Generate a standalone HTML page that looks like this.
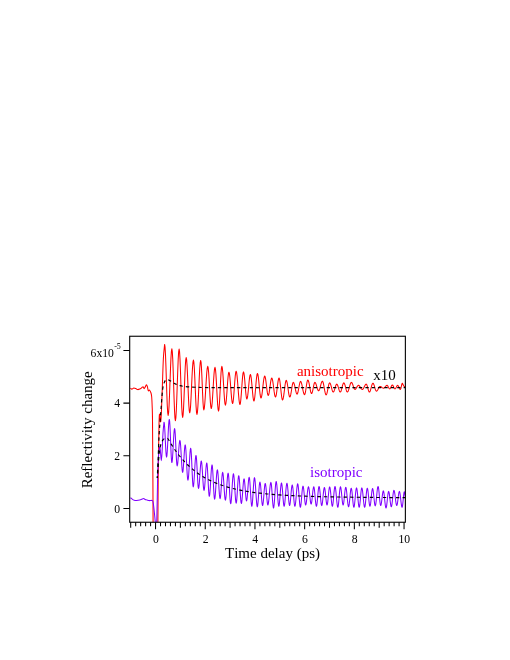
<!DOCTYPE html>
<html><head><meta charset="utf-8"><title>fig</title>
<style>
html,body{margin:0;padding:0;background:#fff;}
body{width:510px;height:660px;overflow:hidden;}
svg{display:block;}
text{font-family:"Liberation Serif",serif;fill:#000;font-variant-ligatures:none;font-kerning:none;}
svg{will-change:transform;}
</style></head><body>
<svg width="510" height="660" viewBox="0 0 510 660">
<rect width="510" height="660" fill="#fff"/>
<defs><clipPath id="c"><rect x="129.7" y="336.25" width="275.67" height="186.0"/></clipPath></defs>
<g clip-path="url(#c)" fill="none" stroke-linejoin="round" stroke-linecap="butt">
<path d="M130.40 388.10 C130.65 388.27 131.33 389.10 131.90 389.10 C132.47 389.10 133.15 388.18 133.80 388.10 C134.45 388.02 135.15 388.35 135.80 388.60 C136.45 388.85 137.05 389.52 137.70 389.60 C138.35 389.68 139.03 389.40 139.70 389.10 C140.37 388.80 141.13 388.20 141.70 387.80 C142.27 387.40 142.70 386.57 143.10 386.70 C143.50 386.83 143.77 388.52 144.10 388.60 C144.43 388.68 144.72 387.85 145.10 387.20 C145.48 386.55 146.02 384.78 146.40 384.70 C146.78 384.62 147.08 385.68 147.40 386.70 C147.72 387.72 147.95 390.23 148.30 390.80 C148.65 391.37 149.05 389.73 149.50 390.10 C149.95 390.47 150.63 391.85 151.00 393.00 C151.37 394.15 151.51 394.83 151.70 397.00 C151.89 399.17 152.02 402.17 152.15 406.00 C152.28 409.83 152.38 409.33 152.50 420.00 C152.62 430.67 152.74 450.00 152.85 470.00 C152.96 490.00 153.10 528.33 153.15 540.00 M157.70 540.00 C157.73 537.00 157.82 532.00 157.90 522.00 C157.98 512.00 158.08 492.00 158.20 480.00 C158.32 468.00 158.47 459.17 158.60 450.00 C158.73 440.83 158.87 430.92 159.00 425.00 C159.13 419.08 159.23 415.83 159.40 414.50 C159.57 413.17 159.78 415.78 160.00 417.00 C160.22 418.22 160.47 422.63 160.70 421.80 C160.93 420.97 161.12 418.13 161.40 412.00 C161.68 405.87 162.07 394.00 162.40 385.00 C162.73 376.00 163.03 364.76 163.40 358.00 C163.77 351.24 164.41 346.68 164.61 344.41 L165.05 347.11 L165.49 354.81 L165.93 366.32 L166.37 379.90 L166.81 393.48 L167.25 405.00 L167.70 412.69 L168.14 415.39 L168.60 412.85 L169.07 405.63 L169.53 394.81 L170.00 382.06 L170.47 369.30 L170.93 358.49 L171.40 351.26 L171.86 348.73 L172.30 351.46 L172.75 359.26 L173.19 370.94 L173.63 384.71 L174.07 398.47 L174.51 410.15 L174.95 417.95 L175.39 420.69 L175.86 417.96 L176.32 410.21 L176.79 398.60 L177.25 384.90 L177.72 371.21 L178.19 359.60 L178.65 351.84 L179.12 349.12 L179.56 351.71 L180.00 359.11 L180.44 370.18 L180.88 383.24 L181.32 396.29 L181.76 407.36 L182.21 414.76 L182.65 417.35 L183.09 415.08 L183.53 408.59 L183.97 398.89 L184.41 387.45 L184.85 376.01 L185.29 366.31 L185.74 359.83 L186.18 357.55 L186.62 359.65 L187.06 365.65 L187.50 374.62 L187.94 385.20 L188.38 395.78 L188.82 404.75 L189.26 410.74 L189.71 412.84 L190.17 410.84 L190.64 405.12 L191.10 396.56 L191.57 386.47 L192.03 376.38 L192.50 367.82 L192.97 362.11 L193.43 360.10 L193.87 362.17 L194.31 368.05 L194.75 376.86 L195.20 387.25 L195.64 397.65 L196.08 406.46 L196.52 412.34 L196.96 414.41 L197.43 412.36 L197.89 406.52 L198.36 397.77 L198.82 387.45 L199.29 377.13 L199.75 368.39 L200.22 362.54 L200.69 360.49 L201.08 362.37 L201.47 367.73 L201.86 375.74 L202.25 385.20 L202.65 394.65 L203.04 402.67 L203.43 408.02 L203.82 409.90 L204.31 408.25 L204.80 403.53 L205.29 396.47 L205.78 388.14 L206.27 379.81 L206.76 372.75 L207.25 368.03 L207.75 366.37 L208.19 367.98 L208.63 372.55 L209.07 379.38 L209.51 387.45 L209.95 395.52 L210.39 402.36 L210.83 406.92 L211.27 408.53 L211.74 406.96 L212.21 402.50 L212.67 395.82 L213.14 387.94 L213.60 380.06 L214.07 373.38 L214.53 368.92 L215.00 367.35 L215.44 369.02 L215.88 373.76 L216.32 380.85 L216.76 389.22 L217.21 397.58 L217.65 404.67 L218.09 409.41 L218.53 411.08 L218.95 409.38 L219.36 404.53 L219.78 397.28 L220.20 388.73 L220.61 380.17 L221.03 372.92 L221.45 368.07 L221.86 366.37 L222.30 367.85 L222.75 372.06 L223.19 378.36 L223.63 385.78 L224.07 393.21 L224.51 399.51 L224.95 403.72 L225.39 405.20 L225.83 403.94 L226.27 400.37 L226.72 395.03 L227.16 388.73 L227.60 382.42 L228.04 377.08 L228.48 373.51 L228.92 372.25 L229.38 373.44 L229.84 376.83 L230.30 381.89 L230.76 387.87 L231.22 393.84 L231.68 398.91 L232.14 402.29 L232.60 403.48 L233.04 402.25 L233.48 398.76 L233.92 393.52 L234.36 387.35 L234.80 381.18 L235.25 375.95 L235.69 372.45 L236.13 371.23 L236.61 372.49 L237.08 376.09 L237.56 381.48 L238.04 387.84 L238.52 394.20 L239.00 399.59 L239.47 403.20 L239.95 404.46 L240.39 403.22 L240.83 399.69 L241.27 394.41 L241.72 388.19 L242.16 381.96 L242.60 376.68 L243.04 373.15 L243.48 371.91 L243.90 372.94 L244.33 375.88 L244.75 380.28 L245.17 385.47 L245.59 390.65 L246.02 395.05 L246.44 397.99 L246.86 399.02 L247.30 398.09 L247.75 395.43 L248.19 391.45 L248.63 386.76 L249.07 382.07 L249.51 378.10 L249.95 375.44 L250.39 374.51 L250.83 375.52 L251.27 378.39 L251.72 382.68 L252.16 387.75 L252.60 392.81 L253.04 397.10 L253.48 399.97 L253.92 400.98 L254.36 399.94 L254.80 396.96 L255.25 392.51 L255.69 387.25 L256.13 382.00 L256.57 377.55 L257.01 374.57 L257.45 373.53 L257.89 374.46 L258.33 377.12 L258.77 381.09 L259.22 385.78 L259.66 390.47 L260.10 394.45 L260.54 397.11 L260.98 398.04 L261.45 397.20 L261.91 394.82 L262.38 391.26 L262.84 387.06 L263.31 382.86 L263.77 379.29 L264.24 376.91 L264.71 376.08 L265.15 376.82 L265.59 378.92 L266.03 382.07 L266.47 385.78 L266.91 389.50 L267.35 392.65 L267.79 394.75 L268.24 395.49 L268.68 394.83 L269.12 392.93 L269.56 390.10 L270.00 386.76 L270.44 383.43 L270.88 380.59 L271.32 378.70 L271.76 378.04 L272.23 378.76 L272.70 380.82 L273.16 383.91 L273.63 387.55 L274.09 391.19 L274.56 394.27 L275.02 396.33 L275.49 397.06 L275.93 396.33 L276.37 394.27 L276.81 391.19 L277.25 387.55 L277.70 383.91 L278.14 380.82 L278.58 378.76 L279.02 378.04 L279.46 378.88 L279.90 381.26 L280.34 384.82 L280.78 389.02 L281.23 393.22 L281.67 396.78 L282.11 399.16 L282.55 400.00 L283.01 399.25 L283.48 397.13 L283.95 393.95 L284.41 390.20 L284.88 386.44 L285.34 383.26 L285.81 381.14 L286.27 380.39 L286.72 381.03 L287.16 382.83 L287.60 385.54 L288.04 388.73 L288.48 391.91 L288.92 394.62 L289.36 396.42 L289.80 397.06 L290.25 396.50 L290.69 394.91 L291.13 392.52 L291.57 389.71 L292.01 386.89 L292.45 384.51 L292.89 382.91 L293.33 382.35 L293.80 382.80 L294.26 384.08 L294.73 385.98 L295.20 388.24 L295.66 390.49 L296.13 392.39 L296.59 393.67 L297.06 394.12 L297.50 393.63 L297.94 392.25 L298.38 390.18 L298.82 387.75 L299.26 385.31 L299.71 383.24 L300.15 381.86 L300.59 381.37 L301.08 381.88 L301.57 383.33 L302.06 385.49 L302.55 388.04 L303.04 390.59 L303.53 392.75 L304.02 394.20 L304.51 394.71 L304.93 394.15 L305.34 392.55 L305.76 390.17 L306.18 387.35 L306.59 384.54 L307.01 382.15 L307.43 380.56 L307.84 380.00 L308.31 380.51 L308.77 381.98 L309.24 384.18 L309.71 386.76 L310.17 389.35 L310.64 391.55 L311.10 393.01 L311.57 393.53 L311.99 393.10 L312.40 391.89 L312.82 390.08 L313.24 387.94 L313.65 385.80 L314.07 383.99 L314.49 382.78 L314.90 382.35 L315.37 382.67 L315.83 383.59 L316.30 384.96 L316.76 386.57 L317.23 388.18 L317.70 389.55 L318.16 390.46 L318.63 390.78 L319.10 390.42 L319.57 389.38 L320.04 387.83 L320.51 386.00 L320.99 384.18 L321.46 382.62 L321.93 381.59 L322.40 381.22 L322.87 381.75 L323.33 383.23 L323.80 385.45 L324.26 388.06 L324.73 390.68 L325.20 392.90 L325.66 394.38 L326.13 394.90 L326.57 394.44 L327.01 393.13 L327.45 391.16 L327.89 388.85 L328.33 386.53 L328.77 384.57 L329.22 383.25 L329.66 382.79 L330.10 383.15 L330.55 384.15 L331.00 385.65 L331.45 387.42 L331.89 389.20 L332.34 390.70 L332.79 391.70 L333.23 392.06 L333.68 391.75 L334.12 390.89 L334.56 389.61 L335.00 388.09 L335.44 386.57 L335.88 385.28 L336.32 384.42 L336.76 384.12 L337.20 384.42 L337.65 385.28 L338.09 386.57 L338.53 388.09 L338.97 389.61 L339.41 390.89 L339.85 391.75 L340.29 392.06 L340.73 391.71 L341.18 390.71 L341.62 389.22 L342.06 387.47 L342.50 385.71 L342.94 384.22 L343.38 383.23 L343.82 382.88 L344.26 383.23 L344.70 384.22 L345.15 385.71 L345.59 387.47 L346.03 389.22 L346.47 390.71 L346.91 391.71 L347.35 392.06 L347.86 391.69 L348.37 390.64 L348.87 389.06 L349.38 387.20 L349.89 385.35 L350.40 383.77 L350.90 382.72 L351.41 382.35 L351.85 382.62 L352.29 383.39 L352.73 384.53 L353.17 385.88 L353.62 387.23 L354.06 388.38 L354.50 389.14 L354.94 389.41 L355.38 389.26 L355.82 388.82 L356.26 388.16 L356.70 387.38 L357.14 386.60 L357.59 385.95 L358.03 385.51 L358.47 385.35 L358.95 385.51 L359.44 385.95 L359.92 386.60 L360.41 387.38 L360.89 388.16 L361.38 388.82 L361.87 389.26 L362.35 389.41 L362.84 389.21 L363.32 388.63 L363.81 387.78 L364.29 386.76 L364.78 385.75 L365.26 384.89 L365.75 384.32 L366.23 384.12 L366.63 384.42 L367.03 385.28 L367.42 386.57 L367.82 388.09 L368.22 389.61 L368.61 390.89 L369.01 391.75 L369.41 392.06 L369.85 391.72 L370.29 390.76 L370.73 389.33 L371.17 387.65 L371.61 385.96 L372.06 384.53 L372.50 383.57 L372.94 383.23 L373.38 383.54 L373.82 384.40 L374.26 385.68 L374.70 387.20 L375.14 388.72 L375.58 390.01 L376.03 390.87 L376.47 391.17 L376.91 390.99 L377.35 390.48 L377.79 389.70 L378.23 388.79 L378.67 387.88 L379.11 387.11 L379.56 386.59 L380.00 386.41 L380.44 386.48 L380.88 386.67 L381.32 386.95 L381.76 387.29 L382.20 387.63 L382.64 387.92 L383.08 388.11 L383.53 388.17 L383.97 388.07 L384.41 387.76 L384.85 387.30 L385.29 386.76 L385.73 386.22 L386.17 385.76 L386.61 385.46 L387.05 385.35 L387.39 385.49 L387.72 385.87 L388.05 386.44 L388.38 387.12 L388.71 387.79 L389.04 388.36 L389.37 388.75 L389.70 388.88 L390.03 388.73 L390.36 388.31 L390.69 387.68 L391.03 386.94 L391.36 386.20 L391.69 385.57 L392.02 385.15 L392.35 385.00 L392.68 385.15 L393.01 385.57 L393.34 386.20 L393.67 386.94 L394.00 387.68 L394.33 388.31 L394.66 388.73 L395.00 388.88 L395.33 388.75 L395.66 388.36 L395.99 387.79 L396.32 387.12 L396.65 386.44 L396.98 385.87 L397.31 385.49 L397.64 385.35 L397.97 385.51 L398.30 385.95 L398.64 386.60 L398.97 387.38 L399.30 388.16 L399.63 388.82 L399.96 389.26 L400.29 389.41 L400.55 389.17 L400.82 388.51 L401.08 387.50 L401.35 386.32 L401.61 385.14 L401.88 384.14 L402.14 383.47 L402.41 383.23 L403.60 385.80 L405.40 387.30" stroke="#ff0000" stroke-width="1.05"/>
<path d="M130.40 497.80 C130.48 497.83 130.57 497.73 130.90 498.00 C131.23 498.27 131.87 499.02 132.40 499.40 C132.93 499.78 133.50 500.13 134.10 500.30 C134.70 500.47 135.32 500.40 136.00 500.40 C136.68 500.40 137.33 500.43 138.20 500.30 C139.07 500.17 140.32 499.88 141.20 499.60 C142.08 499.32 142.85 498.63 143.50 498.60 C144.15 498.57 144.50 499.18 145.10 499.40 C145.70 499.62 146.48 499.70 147.10 499.90 C147.72 500.10 148.02 500.52 148.80 500.60 C149.58 500.68 151.15 500.35 151.80 500.40 C152.45 500.45 152.43 500.30 152.70 500.90 C152.97 501.50 153.17 502.48 153.40 504.00 C153.63 505.52 153.87 507.83 154.10 510.00 C154.33 512.17 154.58 514.83 154.80 517.00 C155.02 519.17 155.22 521.75 155.40 523.00 C155.58 524.25 155.73 524.50 155.90 524.50 C156.07 524.50 156.25 523.75 156.40 523.00 C156.55 522.25 156.63 525.50 156.80 520.00 C156.97 514.50 157.23 498.33 157.40 490.00 C157.57 481.67 157.60 475.83 157.80 470.00 C158.00 464.17 158.28 458.83 158.60 455.00 C158.92 451.17 159.38 447.50 159.70 447.00 C160.02 446.50 160.23 449.73 160.50 452.00 C160.77 454.27 161.03 460.60 161.30 460.60 C161.57 460.60 161.82 456.60 162.10 452.00 C162.38 447.40 162.68 437.97 163.00 433.00 C163.32 428.03 163.85 423.96 164.02 422.16 L164.34 423.49 L164.66 427.27 L164.98 432.93 L165.29 439.61 L165.61 446.29 L165.93 451.95 L166.25 455.73 L166.57 457.06 L166.91 455.63 L167.25 451.55 L167.60 445.44 L167.94 438.24 L168.28 431.03 L168.63 424.93 L168.97 420.84 L169.31 419.41 L169.63 421.05 L169.95 425.73 L170.27 432.73 L170.59 440.98 L170.91 449.23 L171.23 456.23 L171.54 460.91 L171.86 462.55 L172.21 461.26 L172.55 457.58 L172.89 452.08 L173.24 445.59 L173.58 439.10 L173.92 433.60 L174.26 429.92 L174.61 428.63 L174.93 430.05 L175.25 434.08 L175.56 440.13 L175.88 447.25 L176.20 454.38 L176.52 460.43 L176.84 464.46 L177.16 465.88 L177.50 464.91 L177.84 462.15 L178.19 458.01 L178.53 453.14 L178.87 448.26 L179.22 444.13 L179.56 441.36 L179.90 440.39 L180.25 441.61 L180.59 445.07 L180.93 450.26 L181.27 456.37 L181.62 462.49 L181.96 467.67 L182.30 471.14 L182.65 472.35 L182.97 471.31 L183.28 468.33 L183.60 463.88 L183.92 458.63 L184.24 453.37 L184.56 448.92 L184.88 445.95 L185.20 444.90 L185.54 446.25 L185.88 450.07 L186.23 455.80 L186.57 462.55 L186.91 469.30 L187.25 475.03 L187.60 478.85 L187.94 480.20 L188.28 478.98 L188.63 475.52 L188.97 470.33 L189.31 464.22 L189.66 458.10 L190.00 452.92 L190.34 449.45 L190.69 448.24 L191.00 449.71 L191.32 453.89 L191.64 460.16 L191.96 467.55 L192.28 474.94 L192.60 481.21 L192.92 485.39 L193.24 486.86 L193.58 485.67 L193.92 482.27 L194.26 477.18 L194.61 471.18 L194.95 465.17 L195.29 460.08 L195.64 456.68 L195.98 455.49 L196.30 456.74 L196.62 460.31 L196.94 465.66 L197.25 471.96 L197.57 478.26 L197.89 483.61 L198.21 487.18 L198.53 488.43 L198.87 487.39 L199.22 484.41 L199.56 479.96 L199.90 474.71 L200.25 469.45 L200.59 465.00 L200.93 462.03 L201.27 460.98 L201.62 462.10 L201.96 465.29 L202.30 470.06 L202.65 475.69 L202.99 481.31 L203.33 486.08 L203.68 489.27 L204.02 490.39 L204.36 489.35 L204.71 486.37 L205.05 481.92 L205.39 476.67 L205.74 471.41 L206.08 466.96 L206.42 463.99 L206.76 462.94 L207.08 464.21 L207.40 467.82 L207.72 473.23 L208.04 479.61 L208.36 485.99 L208.68 491.39 L209.00 495.01 L209.31 496.27 L209.66 495.08 L210.00 491.68 L210.34 486.59 L210.69 480.59 L211.03 474.59 L211.37 469.50 L211.72 466.10 L212.06 464.90 L212.38 466.21 L212.70 469.93 L213.01 475.49 L213.33 482.06 L213.65 488.62 L213.97 494.19 L214.29 497.91 L214.61 499.22 L214.95 498.10 L215.29 494.91 L215.64 490.14 L215.98 484.51 L216.32 478.88 L216.67 474.11 L217.01 470.92 L217.35 469.80 L217.70 470.90 L218.04 474.03 L218.38 478.70 L218.73 484.22 L219.07 489.73 L219.41 494.41 L219.75 497.53 L220.10 498.63 L220.42 497.63 L220.74 494.78 L221.05 490.52 L221.37 485.49 L221.69 480.46 L222.01 476.20 L222.33 473.35 L222.65 472.35 L222.99 473.41 L223.33 476.43 L223.68 480.95 L224.02 486.27 L224.36 491.60 L224.71 496.12 L225.05 499.14 L225.39 500.20 L225.74 499.17 L226.08 496.23 L226.42 491.84 L226.76 486.67 L227.11 481.49 L227.45 477.10 L227.79 474.17 L228.14 473.14 L228.46 474.30 L228.77 477.62 L229.09 482.58 L229.41 488.43 L229.73 494.28 L230.05 499.25 L230.37 502.56 L230.69 503.73 L231.03 502.58 L231.37 499.33 L231.72 494.47 L232.06 488.73 L232.40 482.99 L232.75 478.12 L233.09 474.87 L233.43 473.73 L233.77 474.84 L234.12 478.03 L234.46 482.80 L234.80 488.43 L235.15 494.06 L235.49 498.83 L235.83 502.02 L236.18 503.14 L236.50 502.09 L236.81 499.12 L237.13 494.66 L237.45 489.41 L237.77 484.16 L238.09 479.71 L238.41 476.73 L238.73 475.69 L239.05 476.74 L239.38 479.75 L239.71 484.26 L240.04 489.57 L240.37 494.88 L240.70 499.38 L241.02 502.39 L241.35 503.45 L241.69 502.51 L242.03 499.85 L242.36 495.85 L242.70 491.15 L243.04 486.44 L243.37 482.45 L243.71 479.78 L244.05 478.84 L244.36 479.68 L244.67 482.08 L244.98 485.66 L245.29 489.89 L245.60 494.12 L245.91 497.70 L246.22 500.10 L246.53 500.94 L246.86 500.04 L247.19 497.48 L247.52 493.64 L247.85 489.12 L248.18 484.59 L248.51 480.76 L248.85 478.19 L249.18 477.29 L249.51 478.39 L249.84 481.53 L250.17 486.23 L250.50 491.76 L250.83 497.30 L251.16 501.99 L251.49 505.13 L251.82 506.23 L252.15 505.14 L252.48 502.05 L252.82 497.41 L253.15 491.94 L253.48 486.47 L253.81 481.83 L254.14 478.73 L254.47 477.65 L254.82 478.75 L255.18 481.91 L255.53 486.63 L255.88 492.20 L256.23 497.78 L256.59 502.50 L256.94 505.65 L257.29 506.76 L257.62 505.82 L257.95 503.14 L258.29 499.14 L258.62 494.41 L258.95 489.68 L259.28 485.68 L259.61 483.00 L259.94 482.06 L260.27 482.95 L260.60 485.49 L260.93 489.30 L261.26 493.79 L261.59 498.28 L261.93 502.09 L262.26 504.63 L262.59 505.53 L262.92 504.69 L263.25 502.30 L263.58 498.72 L263.91 494.50 L264.24 490.28 L264.57 486.70 L264.90 484.31 L265.23 483.47 L265.56 484.29 L265.90 486.62 L266.23 490.11 L266.56 494.23 L266.89 498.35 L267.22 501.84 L267.55 504.18 L267.88 505.00 L268.26 504.14 L268.63 501.69 L269.01 498.03 L269.38 493.70 L269.76 489.38 L270.13 485.72 L270.51 483.27 L270.88 482.41 L271.21 483.38 L271.54 486.16 L271.87 490.31 L272.20 495.20 L272.53 500.10 L272.87 504.25 L273.20 507.02 L273.53 508.00 L273.86 506.99 L274.19 504.12 L274.52 499.83 L274.85 494.76 L275.18 489.70 L275.51 485.40 L275.84 482.54 L276.17 481.53 L276.51 482.47 L276.84 485.15 L277.17 489.15 L277.50 493.88 L277.83 498.61 L278.16 502.61 L278.49 505.29 L278.82 506.23 L279.15 505.35 L279.48 502.82 L279.81 499.04 L280.14 494.59 L280.48 490.13 L280.81 486.35 L281.14 483.83 L281.47 482.94 L281.80 483.83 L282.13 486.35 L282.46 490.13 L282.79 494.59 L283.12 499.04 L283.45 502.82 L283.78 505.35 L284.12 506.23 L284.47 505.36 L284.82 502.87 L285.17 499.15 L285.53 494.76 L285.88 490.37 L286.23 486.65 L286.59 484.17 L286.94 483.29 L287.27 484.14 L287.60 486.55 L287.93 490.16 L288.26 494.41 L288.59 498.66 L288.92 502.27 L289.25 504.68 L289.59 505.53 L289.92 504.75 L290.25 502.53 L290.58 499.21 L290.91 495.29 L291.24 491.38 L291.57 488.06 L291.90 485.84 L292.23 485.06 L292.56 485.86 L292.89 488.16 L293.22 491.59 L293.56 495.64 L293.89 499.70 L294.22 503.13 L294.55 505.43 L294.88 506.23 L295.23 505.38 L295.58 502.95 L295.94 499.32 L296.29 495.03 L296.64 490.74 L297.00 487.10 L297.35 484.68 L297.70 483.82 L298.03 484.72 L298.36 487.26 L298.70 491.07 L299.03 495.56 L299.36 500.05 L299.69 503.85 L300.02 506.40 L300.35 507.29 L300.68 506.49 L301.01 504.19 L301.34 500.76 L301.67 496.70 L302.00 492.65 L302.33 489.22 L302.67 486.92 L303.00 486.12 L303.33 486.83 L303.66 488.88 L303.99 491.94 L304.32 495.56 L304.65 499.17 L304.98 502.23 L305.31 504.28 L305.64 505.00 L306.00 504.31 L306.35 502.34 L306.70 499.39 L307.05 495.91 L307.41 492.43 L307.76 489.48 L308.11 487.51 L308.47 486.82 L308.80 487.48 L309.13 489.35 L309.46 492.16 L309.79 495.47 L310.12 498.78 L310.45 501.58 L310.78 503.46 L311.11 504.12 L311.44 503.46 L311.78 501.58 L312.11 498.78 L312.44 495.47 L312.77 492.16 L313.10 489.35 L313.43 487.48 L313.76 486.82 L314.09 487.56 L314.42 489.66 L314.75 492.81 L315.08 496.53 L315.41 500.24 L315.75 503.39 L316.08 505.49 L316.41 506.23 L316.74 505.48 L317.07 503.34 L317.40 500.13 L317.73 496.35 L318.06 492.57 L318.39 489.36 L318.72 487.22 L319.05 486.47 L319.39 487.20 L319.72 489.27 L320.06 492.38 L320.39 496.04 L320.73 499.71 L321.06 502.81 L321.40 504.89 L321.73 505.61 L322.06 504.93 L322.39 502.97 L322.73 500.03 L323.06 496.57 L323.39 493.11 L323.72 490.18 L324.05 488.22 L324.38 487.53 L324.71 488.19 L325.04 490.09 L325.37 492.92 L325.70 496.26 L326.03 499.61 L326.36 502.44 L326.70 504.33 L327.03 505.00 L327.36 504.31 L327.69 502.35 L328.02 499.41 L328.35 495.95 L328.68 492.49 L329.01 489.56 L329.34 487.60 L329.67 486.91 L330.01 487.65 L330.34 489.74 L330.68 492.87 L331.01 496.57 L331.35 500.27 L331.68 503.40 L332.02 505.50 L332.35 506.23 L332.68 505.48 L333.01 503.34 L333.34 500.13 L333.68 496.35 L334.01 492.57 L334.34 489.36 L334.67 487.22 L335.00 486.47 L335.35 487.26 L335.70 489.52 L336.06 492.90 L336.41 496.88 L336.76 500.86 L337.12 504.24 L337.47 506.50 L337.82 507.29 L338.15 506.51 L338.48 504.29 L338.82 500.97 L339.15 497.06 L339.48 493.14 L339.81 489.82 L340.14 487.60 L340.47 486.82 L340.80 487.51 L341.13 489.48 L341.46 492.43 L341.79 495.91 L342.12 499.39 L342.45 502.34 L342.79 504.31 L343.12 505.00 L343.45 504.33 L343.78 502.41 L344.11 499.55 L344.44 496.17 L344.77 492.80 L345.10 489.94 L345.43 488.02 L345.76 487.35 L346.12 488.09 L346.47 490.19 L346.82 493.34 L347.17 497.06 L347.53 500.77 L347.88 503.92 L348.23 506.02 L348.59 506.76 L348.92 506.06 L349.25 504.05 L349.58 501.04 L349.91 497.50 L350.24 493.95 L350.57 490.95 L350.90 488.94 L351.23 488.23 L351.56 488.96 L351.90 491.02 L352.23 494.12 L352.56 497.76 L352.89 501.41 L353.22 504.50 L353.55 506.57 L353.88 507.29 L354.21 506.55 L354.54 504.45 L354.87 501.30 L355.20 497.59 L355.53 493.87 L355.87 490.72 L356.20 488.62 L356.53 487.88 L356.86 488.62 L357.19 490.72 L357.52 493.87 L357.85 497.59 L358.18 501.30 L358.51 504.45 L358.84 506.55 L359.17 507.29 L359.51 506.55 L359.84 504.45 L360.17 501.30 L360.50 497.59 L360.83 493.87 L361.16 490.72 L361.49 488.62 L361.82 487.88 L362.17 488.62 L362.53 490.72 L362.88 493.87 L363.23 497.59 L363.59 501.30 L363.94 504.45 L364.29 506.55 L364.64 507.29 L364.98 506.57 L365.31 504.50 L365.64 501.41 L365.97 497.76 L366.30 494.12 L366.63 491.02 L366.96 488.96 L367.29 488.23 L367.62 488.92 L367.95 490.87 L368.28 493.79 L368.61 497.23 L368.95 500.68 L369.28 503.60 L369.61 505.55 L369.94 506.23 L370.27 505.56 L370.60 503.65 L370.93 500.79 L371.26 497.41 L371.59 494.03 L371.92 491.17 L372.25 489.26 L372.59 488.59 L372.92 489.24 L373.25 491.12 L373.58 493.92 L373.91 497.23 L374.24 500.54 L374.57 503.35 L374.90 505.22 L375.23 505.88 L375.58 505.14 L375.94 503.04 L376.29 499.89 L376.64 496.17 L377.00 492.46 L377.35 489.31 L377.70 487.21 L378.06 486.47 L378.39 487.19 L378.72 489.26 L379.05 492.35 L379.38 496.00 L379.71 499.64 L380.04 502.74 L380.37 504.80 L380.70 505.53 L381.03 504.97 L381.36 503.38 L381.69 501.01 L382.03 498.20 L382.36 495.40 L382.69 493.03 L383.02 491.44 L383.35 490.88 L383.68 491.53 L384.01 493.39 L384.34 496.16 L384.67 499.44 L385.00 502.71 L385.33 505.49 L385.67 507.35 L386.00 508.00 L386.33 507.37 L386.66 505.57 L386.99 502.88 L387.32 499.70 L387.65 496.53 L387.98 493.84 L388.31 492.04 L388.64 491.41 L388.97 491.99 L389.30 493.66 L389.64 496.15 L389.97 499.09 L390.30 502.02 L390.63 504.51 L390.96 506.18 L391.29 506.76 L391.62 506.14 L391.95 504.36 L392.28 501.70 L392.61 498.56 L392.94 495.42 L393.28 492.75 L393.61 490.98 L393.94 490.35 L394.29 490.93 L394.64 492.57 L395.00 495.04 L395.35 497.94 L395.70 500.84 L396.05 503.30 L396.41 504.95 L396.76 505.53 L397.09 504.99 L397.42 503.46 L397.75 501.17 L398.08 498.47 L398.41 495.77 L398.75 493.48 L399.08 491.95 L399.41 491.41 L399.74 492.01 L400.07 493.74 L400.40 496.31 L400.73 499.35 L401.06 502.39 L401.39 504.97 L401.72 506.69 L402.05 507.29 L402.34 506.70 L402.63 505.02 L402.91 502.50 L403.20 499.53 L403.49 496.56 L403.77 494.04 L404.06 492.35 L404.35 491.76 L405.40 497.00" stroke="#8000ff" stroke-width="1.05"/>
<path d="M157.20 478.00 C157.33 475.33 157.68 469.17 158.00 462.00 C158.32 454.83 158.65 443.10 159.10 435.00 C159.55 426.90 160.12 420.92 160.70 413.40 C161.28 405.88 161.95 395.18 162.60 389.90 C163.25 384.62 163.95 383.37 164.60 381.70 C165.25 380.03 165.92 380.23 166.50 379.90 C167.08 379.57 167.35 379.48 168.10 379.70 C168.85 379.92 169.85 380.53 171.00 381.20 C172.15 381.87 173.50 382.97 175.00 383.70 C176.50 384.43 178.33 385.13 180.00 385.60 C181.67 386.07 182.50 386.23 185.00 386.50 C187.50 386.77 190.83 387.02 195.00 387.20 C199.17 387.38 199.17 387.52 210.00 387.60 C220.83 387.68 227.43 387.70 260.00 387.70 C292.57 387.70 381.17 387.62 405.40 387.60" stroke="#000" stroke-width="1.15" stroke-dasharray="3.3 3.1" stroke-dashoffset="1.18"/>
<path d="M157.40 478.00 C157.53 476.00 157.87 470.33 158.20 466.00 C158.53 461.67 158.93 455.67 159.40 452.00 C159.87 448.33 160.40 446.03 161.00 444.00 C161.60 441.97 162.33 440.72 163.00 439.80 C163.67 438.88 164.33 438.75 165.00 438.50 C165.67 438.25 166.50 438.26 167.00 438.30 C167.50 438.34 167.40 437.94 167.98 438.72 C168.55 439.49 169.63 441.60 170.46 442.96 C171.29 444.32 172.12 445.62 172.95 446.88 C173.77 448.14 174.60 449.35 175.43 450.51 C176.26 451.68 177.09 452.80 177.92 453.88 C178.74 454.96 179.57 455.99 180.40 456.99 C181.23 457.99 182.06 458.95 182.89 459.87 C183.71 460.80 184.54 461.69 185.37 462.54 C186.20 463.40 187.03 464.22 187.86 465.02 C188.68 465.81 189.51 466.57 190.34 467.31 C191.17 468.05 192.00 468.75 192.83 469.43 C193.65 470.11 194.48 470.77 195.31 471.40 C196.14 472.03 196.97 472.64 197.80 473.22 C198.62 473.81 199.45 474.37 200.28 474.92 C201.11 475.46 201.94 475.98 202.77 476.48 C203.59 476.99 204.42 477.47 205.25 477.94 C206.08 478.40 206.91 478.85 207.74 479.29 C208.56 479.72 209.39 480.13 210.22 480.54 C211.05 480.94 211.88 481.32 212.71 481.70 C213.53 482.07 214.36 482.43 215.19 482.78 C216.02 483.12 216.85 483.45 217.68 483.78 C218.50 484.10 219.33 484.41 220.16 484.70 C220.99 485.00 221.82 485.29 222.64 485.57 C223.47 485.84 224.30 486.11 225.13 486.37 C225.96 486.63 226.79 486.87 227.62 487.11 C228.44 487.35 229.27 487.58 230.10 487.81 C230.93 488.03 231.76 488.24 232.59 488.45 C233.41 488.66 234.24 488.86 235.07 489.05 C235.90 489.24 236.73 489.43 237.56 489.61 C238.38 489.79 239.21 489.96 240.04 490.12 C240.87 490.29 241.70 490.45 242.52 490.61 C243.35 490.76 244.18 490.91 245.01 491.06 C245.84 491.20 246.67 491.34 247.50 491.48 C248.32 491.61 249.15 491.74 249.98 491.87 C250.81 491.99 251.64 492.11 252.47 492.23 C253.29 492.35 254.12 492.46 254.95 492.57 C255.78 492.68 256.61 492.78 257.44 492.89 C258.26 492.99 259.09 493.09 259.92 493.18 C260.75 493.28 261.58 493.37 262.40 493.46 C263.23 493.55 264.06 493.63 264.89 493.71 C265.72 493.80 266.55 493.88 267.38 493.95 C268.20 494.03 269.03 494.11 269.86 494.18 C270.69 494.25 271.52 494.32 272.35 494.39 C273.17 494.46 274.00 494.52 274.83 494.59 C275.66 494.65 276.49 494.71 277.31 494.77 C278.14 494.83 278.97 494.89 279.80 494.94 C280.63 495.00 281.46 495.05 282.28 495.11 C283.11 495.16 283.94 495.21 284.77 495.26 C285.60 495.31 286.43 495.35 287.25 495.40 C288.08 495.44 288.91 495.49 289.74 495.53 C290.57 495.58 291.40 495.62 292.23 495.66 C293.05 495.70 293.88 495.74 294.71 495.78 C295.54 495.81 296.37 495.85 297.19 495.89 C298.02 495.92 298.85 495.96 299.68 495.99 C300.51 496.02 301.34 496.06 302.16 496.09 C302.99 496.12 303.82 496.15 304.65 496.18 C305.48 496.21 306.31 496.24 307.13 496.27 C307.96 496.29 308.79 496.32 309.62 496.35 C310.45 496.37 311.28 496.40 312.11 496.42 C312.93 496.45 313.76 496.47 314.59 496.50 C315.42 496.52 316.25 496.54 317.07 496.57 C317.90 496.59 318.73 496.61 319.56 496.63 C320.39 496.65 321.22 496.67 322.04 496.69 C322.87 496.71 323.70 496.73 324.53 496.75 C325.36 496.77 326.19 496.79 327.01 496.80 C327.84 496.82 328.67 496.84 329.50 496.85 C330.33 496.87 331.16 496.89 331.99 496.90 C332.81 496.92 333.64 496.94 334.47 496.95 C335.30 496.97 336.13 496.98 336.95 496.99 C337.78 497.01 338.61 497.02 339.44 497.04 C340.27 497.05 341.10 497.06 341.92 497.08 C342.75 497.09 343.58 497.10 344.41 497.11 C345.24 497.12 346.07 497.14 346.89 497.15 C347.72 497.16 348.55 497.17 349.38 497.18 C350.21 497.19 351.04 497.20 351.87 497.21 C352.69 497.22 353.52 497.23 354.35 497.24 C355.18 497.25 356.01 497.26 356.83 497.27 C357.66 497.28 358.49 497.29 359.32 497.30 C360.15 497.31 360.98 497.32 361.80 497.33 C362.63 497.34 363.46 497.35 364.29 497.35 C365.12 497.36 365.95 497.37 366.77 497.38 C367.60 497.39 368.43 497.39 369.26 497.40 C370.09 497.41 370.92 497.42 371.75 497.42 C372.57 497.43 373.40 497.44 374.23 497.44 C375.06 497.45 375.89 497.46 376.71 497.46 C377.54 497.47 378.37 497.48 379.20 497.48 C380.03 497.49 380.86 497.49 381.68 497.50 C382.51 497.51 383.34 497.51 384.17 497.52 C385.00 497.52 385.83 497.53 386.65 497.53 C387.48 497.54 388.31 497.55 389.14 497.55 C389.97 497.56 390.80 497.56 391.62 497.57 C392.45 497.57 393.28 497.58 394.11 497.58 C394.94 497.59 395.77 497.59 396.59 497.59 C397.42 497.60 398.25 497.60 399.08 497.61 C399.91 497.61 400.74 497.62 401.56 497.62 C402.39 497.62 403.22 497.63 404.05 497.63 C404.88 497.64 406.12 497.64 406.53 497.64" stroke="#000" stroke-width="1.15" stroke-dasharray="3.3 3.25" stroke-dashoffset="2.08"/>
</g>
<rect x="129.7" y="336.25" width="275.67" height="186.0" fill="none" stroke="#000" stroke-width="1.1"/>
<path d="M130.70 522.25 v5.40 M135.67 522.25 v3.90 M140.64 522.25 v3.90 M145.61 522.25 v3.90 M150.58 522.25 v3.90 M155.55 522.25 v7.00 M160.52 522.25 v3.90 M165.49 522.25 v3.90 M170.46 522.25 v3.90 M175.43 522.25 v3.90 M180.40 522.25 v5.40 M185.37 522.25 v3.90 M190.34 522.25 v3.90 M195.31 522.25 v3.90 M200.28 522.25 v3.90 M205.25 522.25 v7.00 M210.22 522.25 v3.90 M215.19 522.25 v3.90 M220.16 522.25 v3.90 M225.13 522.25 v3.90 M230.10 522.25 v5.40 M235.07 522.25 v3.90 M240.04 522.25 v3.90 M245.01 522.25 v3.90 M249.98 522.25 v3.90 M254.95 522.25 v7.00 M259.92 522.25 v3.90 M264.89 522.25 v3.90 M269.86 522.25 v3.90 M274.83 522.25 v3.90 M279.80 522.25 v5.40 M284.77 522.25 v3.90 M289.74 522.25 v3.90 M294.71 522.25 v3.90 M299.68 522.25 v3.90 M304.65 522.25 v7.00 M309.62 522.25 v3.90 M314.59 522.25 v3.90 M319.56 522.25 v3.90 M324.53 522.25 v3.90 M329.50 522.25 v5.40 M334.47 522.25 v3.90 M339.44 522.25 v3.90 M344.41 522.25 v3.90 M349.38 522.25 v3.90 M354.35 522.25 v7.00 M359.32 522.25 v3.90 M364.29 522.25 v3.90 M369.26 522.25 v3.90 M374.23 522.25 v3.90 M379.20 522.25 v5.40 M384.17 522.25 v3.90 M389.14 522.25 v3.90 M394.11 522.25 v3.90 M399.08 522.25 v3.90 M404.05 522.25 v7.00 M129.70 508.50 h-6.3 M129.70 455.80 h-6.3 M129.70 403.10 h-6.3 M129.70 350.40 h-6.3" stroke="#000" stroke-width="1.05" fill="none"/>
<g font-size="11.7px"><text x="155.85" y="543.3" text-anchor="middle">0</text><text x="205.55" y="543.3" text-anchor="middle">2</text><text x="255.25" y="543.3" text-anchor="middle">4</text><text x="304.95" y="543.3" text-anchor="middle">6</text><text x="354.65" y="543.3" text-anchor="middle">8</text><text x="404.35" y="543.3" text-anchor="middle">10</text><text x="120.1" y="512.60" text-anchor="end">0</text><text x="120.1" y="459.90" text-anchor="end">2</text><text x="120.1" y="407.20" text-anchor="end">4</text>
<text x="90.6" y="356.7" font-size="11.65px">6x10<tspan x="114.2" dy="-8.1" font-size="8px">-5</tspan></text>
</g>
<text x="272.5" y="557.9" text-anchor="middle" font-size="15px">Time delay (ps)</text>
<text transform="translate(92.4 429.8) rotate(-90)" text-anchor="middle" font-size="15px">Reflectivity change</text>
<text x="296.9" y="376.0" font-size="15px" style="fill:#ff0000">anisotropic</text>
<text x="373.2" y="379.8" font-size="15px">x10</text>
<text x="310.0" y="476.8" font-size="15px" style="fill:#8000ff">isotropic</text>
</svg>
</body></html>
